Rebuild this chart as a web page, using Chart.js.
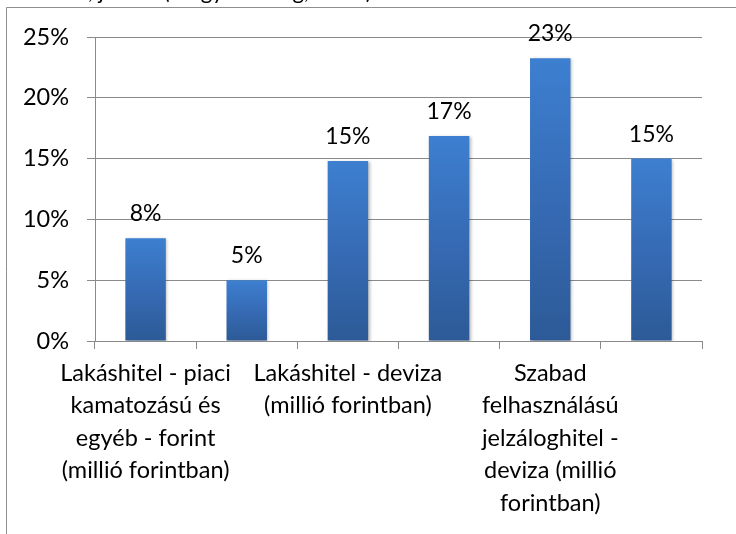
<!DOCTYPE html>
<html>
<head>
<meta charset="utf-8">
<script src="https://cdn.jsdelivr.net/npm/chart.js@4/dist/chart.umd.min.js"></script>
<style>
  html, body { margin: 0; padding: 0; background: #ffffff; }
  #wrap { position: relative; width: 736px; height: 534px; overflow: hidden; }
  canvas { display: block; }
</style>
</head>
<body>
<div id="wrap"><canvas id="c" width="736" height="534"></canvas></div>
<script>
// ---- data ----
const categories = [
  ["Lakáshitel - piaci", "kamatozású és", "egyéb - forint", "(millió forintban)"],
  ["Lakáshitel - támogatott", "- forint (millió", "forintban)"],
  ["Lakáshitel - deviza", "(millió forintban)"],
  ["Szabad", "felhasználású", "jelzáloghitel -", "forint (millió", "forintban)"],
  ["Szabad", "felhasználású", "jelzáloghitel -", "deviza (millió", "forintban)"],
  ["Egyéb hitel", "(millió forintban)"]
];
const values = [8.45, 5.0, 14.8, 16.85, 23.25, 15.0];
const yTicks = [0, 5, 10, 15, 20, 25];
const titleText = "Változás, január (Magyarország, 2010)";

const FONT = "Lato, 'Open Sans', sans-serif";
const TXT = "#000000";

function barGradient(ctx) {
  const chart = ctx.chart;
  const area = chart.chartArea;
  if (!area) return '#3a78c4';
  const ys = chart.scales.y;
  const v = values[ctx.dataIndex];
  const top = ys.getPixelForValue(v);
  const base = ys.getPixelForValue(0);
  const g = chart.ctx.createLinearGradient(0, top, 0, base);
  g.addColorStop(0, '#3d7fd0');
  g.addColorStop(0.5, '#366bb5');
  g.addColorStop(1, '#2d5a97');
  return g;
}

const framePlugin = {
  id: 'frame',
  beforeDraw(chart) {
    const c = chart.ctx;
    c.save();
    c.fillStyle = '#ffffff';
    c.fillRect(0, 0, chart.width, chart.height);
    c.strokeStyle = '#8e8e8e';
    c.lineWidth = 1;
    c.beginPath();
    c.moveTo(6.5, chart.height + 2);
    c.lineTo(6.5, 7.5);
    c.lineTo(chart.width + 2, 7.5);
    c.stroke();
    c.fillStyle = TXT;
    c.font = "22px " + FONT;
    c.textBaseline = 'alphabetic';
    c.textAlign = 'left';
    c.fillText(titleText, 8, -1);
    c.restore();
  }
};

const shadowPlugin = {
  id: 'barShadow',
  beforeDatasetsDraw(chart) {
    const c = chart.ctx;
    c.save();
    c.shadowColor = 'rgba(0,0,0,0.28)';
    c.shadowBlur = 3;
    c.shadowOffsetX = 1.5;
    c.shadowOffsetY = 1;
  },
  afterDatasetsDraw(chart) {
    chart.ctx.restore();
  }
};

const labelPlugin = {
  id: 'valueLabels',
  afterDatasetsDraw(chart) {
    const c = chart.ctx;
    const meta = chart.getDatasetMeta(0);
    c.save();
    c.fillStyle = TXT;
    c.font = "23px " + FONT;
    c.textAlign = 'center';
    c.textBaseline = 'alphabetic';
    meta.data.forEach((bar, i) => {
      c.fillText(Math.round(values[i]) + '%', bar.x, bar.y - 17);
    });
    c.restore();
  }
};

new Chart(document.getElementById('c'), {
  type: 'bar',
  data: {
    labels: categories,
    datasets: [{
      data: values,
      backgroundColor: barGradient,
      borderWidth: 0,
      barPercentage: 0.4,
      categoryPercentage: 1.0
    }]
  },
  options: {
    responsive: false,
    animation: false,
    devicePixelRatio: 1,
    layout: { padding: { left: 0, right: 34, top: 37, bottom: 0 } },
    plugins: {
      legend: { display: false },
      tooltip: { enabled: false },
      title: { display: false }
    },
    scales: {
      x: {
        offset: true,
        grid: {
          display: true,
          offset: true,
          drawOnChartArea: false,
          drawTicks: true,
          tickLength: 8,
          color: '#8a8a8a',
          lineWidth: 1
        },
        border: { display: true, color: '#8a8a8a', width: 1 },
        ticks: {
          autoSkip: false,
          maxRotation: 0,
          minRotation: 0,
          padding: 8,
          color: TXT,
          font: { family: FONT, size: 23.5, lineHeight: 1.38 },
          callback: function (val, idx) {
            return idx % 2 === 0 ? categories[idx] : '';
          }
        },
        afterFit(scale) { scale.height = 193; }
      },
      y: {
        min: 0,
        max: 25,
        afterBuildTicks(scale) {
          scale.ticks = yTicks.map(v => ({ value: v }));
        },
        grid: {
          color: '#8a8a8a',
          lineWidth: 1,
          drawTicks: true,
          tickLength: 8
        },
        border: { display: true, color: '#8a8a8a', width: 1 },
        ticks: {
          padding: 18,
          color: TXT,
          font: { family: FONT, size: 23.5 },
          callback: v => v + '%'
        },
        afterFit(scale) { scale.width = 95; }
      }
    }
  },
  plugins: [framePlugin, shadowPlugin, labelPlugin]
});
</script>
</body>
</html>
